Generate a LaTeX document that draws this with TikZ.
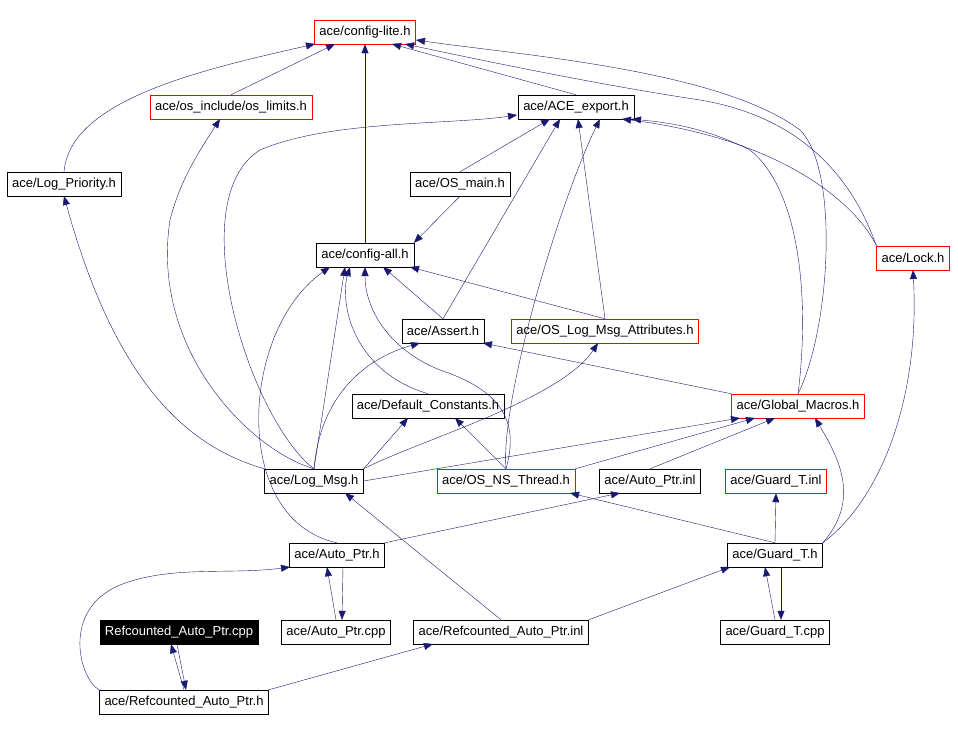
\documentclass[tikz,border=0pt]{standalone}
\usepackage{fontspec}
\setmainfont{Liberation Sans}
\usetikzlibrary{arrows.meta}
\definecolor{edgeblue}{HTML}{191970}
\tikzset{
  file/.style={draw, thin, minimum height=24pt, inner xsep=5pt, inner ysep=0pt, font=\fontsize{13}{14}\selectfont},
  redfile/.style={file, draw=red},
  inc/.style={edgeblue, thin, -{Triangle[length=9pt,width=7pt]}},
}
\begin{document}
\begin{tikzpicture}[x=1pt,y=-1pt]
    \useasboundingbox (0,0) rectangle (958,734);
    \node [redfile] (cfglite)  at (365,32)  {ace/config-lite.h};
    \node [redfile] (oslimits) at (231,107) {ace/os\_include/os\_limits.h};
    \node [file]    (export)   at (576,107) {ace/ACE\_export.h};
    \node [file]    (logprio)  at (64,184)  {ace/Log\_Priority.h};
    \node [file]    (osmain)   at (460,184) {ace/OS\_main.h};
    \node [file]    (cfgall)   at (365,255) {ace/config-all.h};
    \node [redfile] (lock)     at (913,258) {ace/Lock.h};
    \node [file]    (assert)   at (443,331) {ace/Assert.h};
    \node [redfile] (attrs)    at (605,331) {ace/OS\_Log\_Msg\_Attributes.h};
    \node [file]    (defconst) at (428,406) {ace/Default\_Constants.h};
    \node [redfile] (macros)   at (798,406) {ace/Global\_Macros.h};
    \node [file]    (logmsg)   at (314,481) {ace/Log\_Msg.h};
    \node [redfile] (thread)   at (506,481) {ace/OS\_NS\_Thread.h};
    \node [file]    (apinl)    at (650,481) {ace/Auto\_Ptr.inl};
    \node [redfile] (guardinl) at (776,481) {ace/Guard\_T.inl};
    \node [file]    (autoptr)  at (337,555) {ace/Auto\_Ptr.h};
    \node [file]    (guard)    at (775,555) {ace/Guard\_T.h};
    \node [file, fill=black, text=white] (rcpp) at (179,632) {Refcounted\_Auto\_Ptr.cpp};
    \node [file]    (apcpp)    at (336,632) {ace/Auto\_Ptr.cpp};
    \node [file]    (rinl)     at (501,632) {ace/Refcounted\_Auto\_Ptr.inl};
    \node [file]    (gcpp)     at (775,632) {ace/Guard\_T.cpp};
    \node [file]    (rh)       at (184,702) {ace/Refcounted\_Auto\_Ptr.h};
    % towards config-lite.h
    \draw [inc] (oslimits.north) -- (335,44);
    \draw [inc] (logprio.north) .. controls (70,100) and (200,70) .. (315,44);
    \draw [inc] (cfgall.north) -- (cfglite.south);
    \draw [inc] (export.north) -- (392,44);
    \draw [inc] (lock.north west) .. controls (860,200) and (820,120) .. (700,100) .. controls (600,85) and (480,60) .. (405,44);
    \draw [inc] (macros.north) .. controls (830,330) and (840,170) .. (800,130) .. controls (720,70) and (520,55) .. (416,40);
    % towards ACE_export.h
    \draw [inc] (lock.north west) .. controls (860,210) and (790,140) .. (622,119);
    \draw [inc] (macros.north) .. controls (810,300) and (800,190) .. (750,150) .. controls (700,125) and (660,122) .. (632,119);
    \draw [inc] (osmain.north) -- (550,119);
    \draw [inc] (assert.north) -- (560,119);
    \draw [inc] (attrs.north) -- (578,119);
    \draw [inc] (thread.north) .. controls (500,400) and (560,200) .. (600,119);
    \draw [inc] (logmsg.north) .. controls (250,420) and (180,200) .. (260,150) .. controls (330,120) and (450,125) .. (517,115);
    % towards config-all.h
    \draw [inc] (osmain.south) -- (cfgall.north east);
    \draw [inc] (assert.north) -- (383,267);
    \draw [inc] (attrs.north) -- (410,267);
    \draw [inc] (defconst.north) .. controls (350,370) and (340,300) .. (350,267);
    \draw [inc] (logmsg.north) -- (345,267);
    \draw [inc] (thread.north) .. controls (520,420) and (500,390) .. (440,370) .. controls (390,350) and (365,310) .. (365,267);
    \draw [inc] (autoptr.north) .. controls (230,520) and (240,330) .. (330,267);
    % towards Assert.h and the others
    \draw [inc] (macros.north west) -- (483,343);
    \draw [inc] (logmsg.north) .. controls (320,400) and (360,360) .. (420,343);
    \draw [inc] (logmsg.north east) .. controls (420,440) and (560,400) .. (598,343);
    \draw [inc] (logmsg.north east) -- (408,418);
    \draw [inc] (logmsg.east) -- (740,418);
    \draw [inc] (logmsg.north) .. controls (250,450) and (150,350) .. (170,220) .. controls (180,180) and (200,150) .. (220,119);
    \draw [inc] (logmsg.north west) .. controls (200,450) and (120,400) .. (64,196);
    \draw [inc] (thread.north) -- (455,418);
    \draw [inc] (thread.north east) -- (755,418);
    \draw [inc] (apinl.north) -- (775,418);
    \draw [inc] (guard.north east) .. controls (860,500) and (840,460) .. (815,418);
    \draw [inc] (guard.north east) .. controls (880,500) and (920,400) .. (913,270);
    \draw [inc] (guard.north) -- (570,493);
    \draw [inc] (guard.north) -- (guardinl.south);
    \draw [inc] (autoptr.north east) -- (620,493);
    \draw [inc] (rinl.north) -- (345,493);
    \draw [inc] (rinl.north east) -- (730,567);
    % bottom row
    \draw [inc] (apcpp.north) -- ([xshift=-10pt]autoptr.south);
    \draw [inc] ([xshift=6pt]autoptr.south) -- ([xshift=6pt]apcpp.north);
    \draw [inc] (gcpp.north) -- ([xshift=-10pt]guard.south);
    \draw [inc] ([xshift=6pt]guard.south) -- ([xshift=6pt]gcpp.north);
    \draw [inc] (rh.north) -- ([xshift=-8pt]rcpp.south);
    \draw [inc] ([xshift=-2pt]rcpp.south) -- ([xshift=2pt]rh.north);
    \draw [inc] (rh.north west) .. controls (80,680) and (60,610) .. (120,585) .. controls (170,565) and (230,575) .. (290,567);
    \draw [inc] (rh.north east) -- (433,644);
\end{tikzpicture}
\end{document}
